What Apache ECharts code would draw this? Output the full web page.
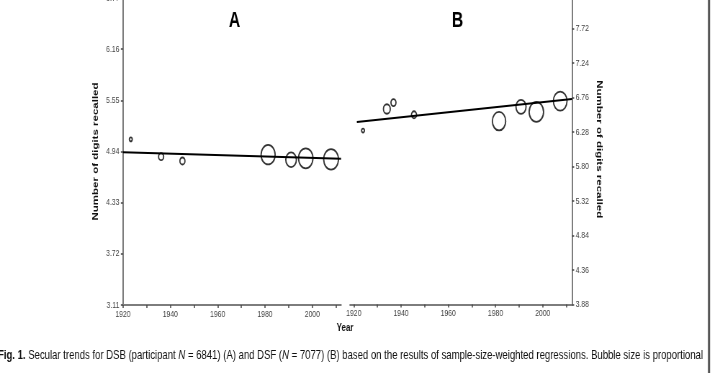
<!DOCTYPE html>
<html><head><meta charset="utf-8">
<script src="https://cdn.jsdelivr.net/npm/echarts@6/dist/echarts.min.js"></script>
<style>
html,body{margin:0;padding:0;background:#fff;overflow:hidden;width:712px;height:373px}
#wrap{position:absolute;left:0;top:0;width:989px;height:373px;transform:scaleX(0.72);transform-origin:0 0}
</style></head><body>
<div id="wrap"></div>
<script>
// ---- data ----
const yearsA  = [1923.3, 1936.1, 1945.1, 1981.3, 1991.0, 1997.2, 2007.9];
const valuesA = [5.085, 4.878, 4.827, 4.902, 4.842, 4.859, 4.847];
const bubbleA = [4, 7, 7, 19.5, 14.7, 20, 20.5];
const trendYearsA  = [1920, 2012.1];
const trendValuesA = [4.93, 4.854];

const yearsB  = [1923.9, 1934.0, 1936.8, 1945.5, 1981.5, 1990.8, 1997.3, 2007.4];
const valuesB = [6.30, 6.60, 6.69, 6.52, 6.43, 6.63, 6.56, 6.71];
const bubbleB = [4, 9.5, 7, 7, 18.5, 14, 20, 19];
const trendYearsB  = [1921.3, 2012.4];
const trendValuesB = [6.42, 6.74];

const xTicks  = [1920, 1930, 1940, 1950, 1960, 1970, 1980, 1990, 2000, 2010];
const xLabels = [1920, 1940, 1960, 1980, 2000];
const yTicksA = [3.11, 3.72, 4.33, 4.94, 5.55, 6.16, 6.77];
const yTicksB = [3.88, 4.36, 4.84, 5.32, 5.80, 6.28, 6.76, 7.24, 7.72, 8.20];

const yName = 'Number of digits recalled';
const xName = 'Year';
const panelA = 'A', panelB = 'B';
const captionBold = 'Fig. 1.';
const captionParts = [' Secular trends for DSB (participant ', 'N', ' = 6841) (A) and DSF (', 'N', ' = 7077) (B) based on the results of sample-size-weighted regressions. Bubble size is proportional'];

// ---- layout helpers ----
const S = 0.72;             // horizontal squash of the whole figure
const X = v => v / S;       // reference x -> unscaled x
const FONT = "'Liberation Sans', Arial, sans-serif";

function measure(font, s) {
  const c = document.createElement('canvas').getContext('2d');
  c.font = font; return c.measureText(s).width;
}
const capSize = 13;
const capW = measure('bold ' + capSize + 'px ' + FONT, captionBold) +
  captionParts.reduce((a, p) => a + measure(capSize + 'px ' + FONT, p), 0);
const capScale = X(705) / capW;

const axisLine = { show: true, onZero: false, lineStyle: { color: '#7d7d7d', width: 2 } };
const tickLabel = { color: '#444', fontSize: 9.5, fontFamily: FONT };

function xAxis(grid, min, max) {
  return {
    type: 'value', gridIndex: grid, min: min, max: max,
    axisLine: axisLine,
    axisTick: { show: true, customValues: xTicks, length: 3, lineStyle: { color: '#444', width: 1.5 } },
    axisLabel: Object.assign({ customValues: xLabels, margin: 4, formatter: v => String(Math.round(v)) }, tickLabel),
    splitLine: { show: false }
  };
}
function yAxis(grid, ticks, pos, rot, gap) {
  return {
    type: 'value', gridIndex: grid, position: pos,
    min: ticks[0], max: ticks[ticks.length - 1],
    axisLine: axisLine,
    axisTick: { show: true, customValues: ticks, length: 3, lineStyle: { color: '#444', width: 1.5 } },
    axisLabel: Object.assign({ customValues: ticks, margin: 5, formatter: v => v.toFixed(2) }, tickLabel),
    splitLine: { show: false },
    name: yName, nameLocation: 'middle', nameRotate: rot, nameGap: gap,
    nameTextStyle: { color: '#111', fontWeight: 'bold', fontSize: 11.5, fontFamily: FONT }
  };
}
const bubbleStyle = { color: 'rgba(0,0,0,0)', borderColor: '#000', borderWidth: 1.8 };
const trendStyle = { color: '#000', width: 2 };

const chart = echarts.init(document.getElementById('wrap'), null, { renderer: 'canvas' });
chart.setOption({
  animation: false,
  backgroundColor: '#fff',
  grid: [
    { left: X(123), top: -2, width: X(341) - X(123), height: 307, outerBoundsMode: 'none', containLabel: false },
    { left: X(350), top: -6, width: X(572) - X(350), height: 310.5, outerBoundsMode: 'none', containLabel: false }
  ],
  xAxis: [xAxis(0, 1920, 2012.1), xAxis(1, 1918.4, 2012.4)],
  yAxis: [yAxis(0, yTicksA, 'left', 90, 32), yAxis(1, yTicksB, 'right', -90, 32)],
  series: [
    { type: 'scatter', xAxisIndex: 0, yAxisIndex: 0, symbol: 'circle',
      data: yearsA.map((y, i) => [y, valuesA[i], bubbleA[i]]),
      symbolSize: d => d[2], itemStyle: bubbleStyle },
    { type: 'line', xAxisIndex: 0, yAxisIndex: 0, symbol: 'none',
      data: trendYearsA.map((y, i) => [y, trendValuesA[i]]), lineStyle: trendStyle },
    { type: 'scatter', xAxisIndex: 1, yAxisIndex: 1, symbol: 'circle',
      data: yearsB.map((y, i) => [y, valuesB[i], bubbleB[i]]),
      symbolSize: d => d[2], itemStyle: bubbleStyle },
    { type: 'line', xAxisIndex: 1, yAxisIndex: 1, symbol: 'none',
      data: trendYearsB.map((y, i) => [y, trendValuesB[i]]), lineStyle: trendStyle }
  ],
  graphic: [
    { type: 'text', x: X(234.5), y: 21, style: { text: panelA, font: 'bold 22px ' + FONT, fill: '#000', textAlign: 'center', textVerticalAlign: 'middle' } },
    { type: 'text', x: X(457.5), y: 21, style: { text: panelB, font: 'bold 22px ' + FONT, fill: '#000', textAlign: 'center', textVerticalAlign: 'middle' } },
    { type: 'text', x: X(345), y: 328, style: { text: xName, font: 'bold 11px ' + FONT, fill: '#111', textAlign: 'center', textVerticalAlign: 'middle' } },
    { type: 'text', x: X(-2), y: 355, scaleX: capScale,
      style: {
        text: '{b|' + captionBold + '}' + captionParts[0] + '{i|' + captionParts[1] + '}' + captionParts[2] + '{i|' + captionParts[3] + '}' + captionParts[4],
        font: capSize + 'px ' + FONT, fill: '#111', textVerticalAlign: 'middle',
        rich: { b: { fontWeight: 'bold', fontSize: capSize, fontFamily: FONT }, i: { fontStyle: 'italic', fontSize: capSize, fontFamily: FONT } }
      } },
    { type: 'line', shape: { x1: X(709), y1: 0, x2: X(709), y2: 373 }, style: { stroke: '#555', lineWidth: 3 } }
  ]
});
</script>
</body></html>
